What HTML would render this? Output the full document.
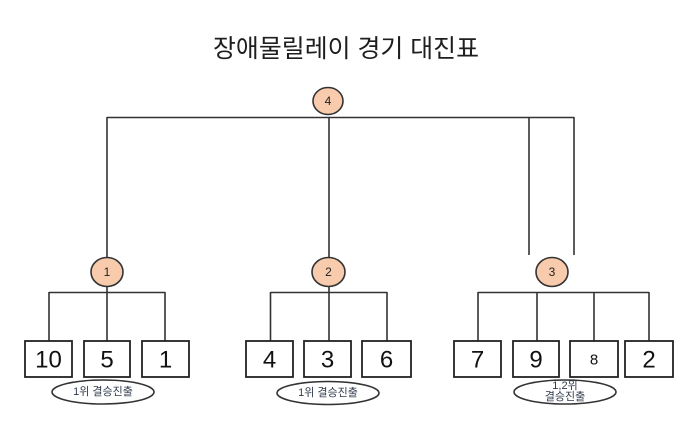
<!DOCTYPE html>
<html>
<head>
<meta charset="utf-8">
<style>
html,body{margin:0;padding:0;background:#fff;}
svg{display:block;}
</style>
</head>
<body>
<svg width="697" height="446" viewBox="0 0 697 446" xmlns="http://www.w3.org/2000/svg">
  <rect width="697" height="446" fill="#fff"/>
  <text x="213" y="49" font-family="'Liberation Sans','Noto Sans CJK KR',sans-serif" font-size="25" fill="#1e1e1e" dominant-baseline="central" textLength="266" lengthAdjust="spacingAndGlyphs">장애물릴레이 경기 대진표</text>

  <g stroke="#333" stroke-width="1.6" fill="none">
    <path d="M107,117.5 H574"/>
    <path d="M107,117 V257"/>
    <path d="M329,117 V257"/>
    <path d="M529,117 V255"/>
    <path d="M574,117 V255"/>
    <path d="M49,292.5 H165"/>
    <path d="M270.5,292.5 H387"/>
    <path d="M478,292.5 H649"/>
    <path d="M49,292 V341 M107,287 V341 M165,292 V341"/>
    <path d="M270.5,292 V341 M329,287 V341 M387,292 V341"/>
    <path d="M478,292 V341 M537,292 V341 M594,292 V341 M649,292 V341"/>
  </g>

  <g stroke="#222" stroke-width="1.8" fill="#fff">
    <rect x="25" y="341" width="47" height="36"/>
    <rect x="84" y="341" width="46" height="36"/>
    <rect x="142" y="341" width="47" height="36"/>
    <rect x="246" y="341" width="47" height="36"/>
    <rect x="304" y="341" width="47" height="36"/>
    <rect x="362" y="341" width="49" height="36"/>
    <rect x="454" y="341" width="47" height="36"/>
    <rect x="513" y="341" width="46" height="36"/>
    <rect x="570" y="341" width="48" height="36"/>
    <rect x="625" y="341" width="48" height="36"/>
  </g>
  <g font-family="'Liberation Sans',sans-serif" font-size="24" fill="#111" text-anchor="middle" dominant-baseline="central">
    <text x="48.5" y="360">10</text>
    <text x="107" y="360">5</text>
    <text x="165.5" y="360">1</text>
    <text x="269.5" y="360">4</text>
    <text x="327.5" y="360">3</text>
    <text x="386.5" y="360">6</text>
    <text x="477.5" y="360">7</text>
    <text x="536" y="360">9</text>
    <text x="594" y="360" font-size="15">8</text>
    <text x="649" y="360">2</text>
  </g>

  <g stroke="#333" stroke-width="1.6" fill="#F8CBAD">
    <ellipse cx="328" cy="101" rx="15" ry="13.5"/>
    <ellipse cx="107" cy="272" rx="16" ry="14.5"/>
    <ellipse cx="328.5" cy="272" rx="16.5" ry="14.5"/>
    <ellipse cx="552" cy="272" rx="16" ry="14.5"/>
  </g>
  <g font-family="'Liberation Sans',sans-serif" font-size="12" fill="#222" text-anchor="middle" dominant-baseline="central">
    <text x="328" y="101">4</text>
    <text x="107" y="272">1</text>
    <text x="328.5" y="272">2</text>
    <text x="552" y="272">3</text>
  </g>

  <g stroke="#333" stroke-width="1.6" fill="#fff">
    <ellipse cx="103" cy="392" rx="51" ry="12"/>
    <ellipse cx="328" cy="393" rx="51" ry="11.5"/>
    <ellipse cx="565" cy="392" rx="51" ry="12"/>
  </g>
  <g font-family="'Liberation Sans','Noto Sans CJK KR',sans-serif" font-size="11" fill="#2f3a4a" text-anchor="middle" dominant-baseline="central">
    <text x="103" y="392">1위 결승진출</text>
    <text x="328" y="393">1위 결승진출</text>
    <text x="565" y="386">1,2위</text>
    <text x="565" y="397">결승진출</text>
  </g>
</svg>
</body>
</html>
